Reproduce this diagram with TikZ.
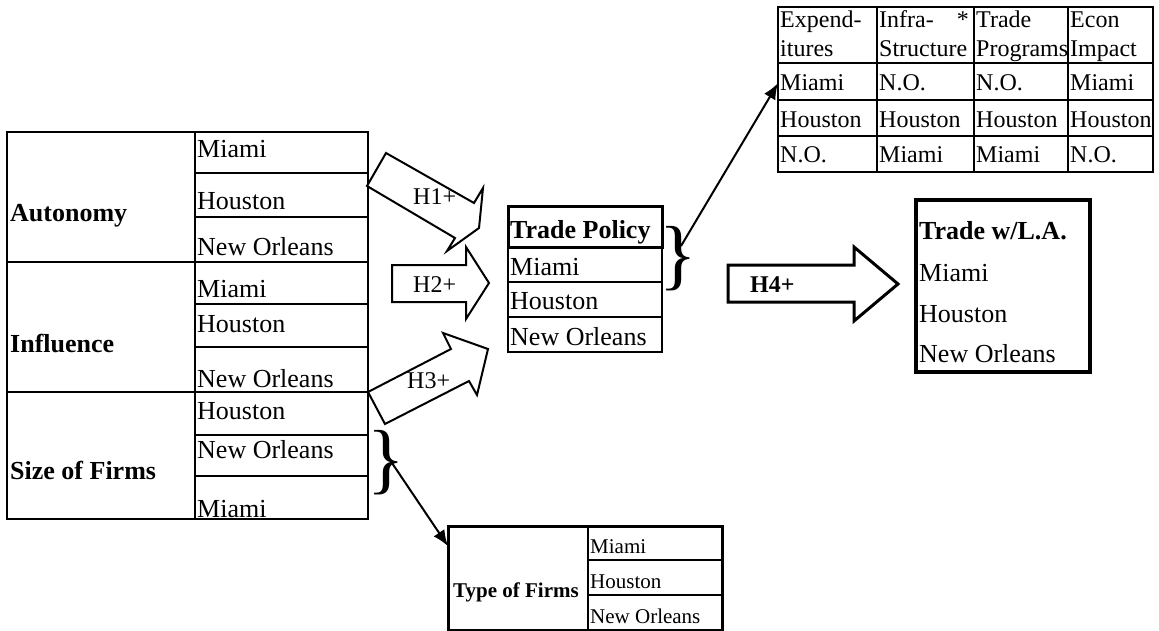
\documentclass[tikz,border=0pt]{standalone}
\usepackage{fontspec}
\setmainfont{Liberation Serif}
\usetikzlibrary{arrows.meta}

\begin{document}
\begin{tikzpicture}[x=1pt, y=-1pt,
		frame/.style={draw, anchor=north west, inner sep=0pt, outer sep=0pt},
		cell/.style={anchor=base west, inner sep=0pt, font=\fontsize{26}{30}\selectfont},
		head/.style={anchor=base west, inner sep=0pt, font=\fontsize{26}{30}\selectfont\bfseries},
		small/.style={anchor=base west, inner sep=0pt, font=\fontsize{24}{28}\selectfont},
		tiny/.style={anchor=base west, inner sep=0pt, font=\fontsize{21}{25}\selectfont},
		rule/.style={line width=2pt},
		block/.style={draw, line width=2pt, fill=white, line join=miter},
		conn/.style={line width=2pt, -{Latex[length=16pt, width=13pt]}},
		brace/.style={anchor=west, inner sep=0pt, font=\fontsize{78}{78}\selectfont}]
		\useasboundingbox (0,0) rectangle (1159,631);

		% determinants
		\node[frame, line width=2.5pt, minimum width=361, minimum height=387] (det) at (7,132) {};
		\draw[rule] (195,132) -- (195,519) (7,262) -- (368,262) (7,392) -- (368,392);
		\draw[rule] (195,173) -- (368,173) (195,217) -- (368,217)
			(195,304) -- (368,304) (195,347) -- (368,347)
			(195,435) -- (368,435) (195,476) -- (368,476);
		\node[head] (auton) at (10,222) {Autonomy};
		\node[cell] (a1) at (197,158) {Miami};
		\node[cell] (a2) at (197,210) {Houston};
		\node[cell] (a3) at (197,255) {New Orleans};
		\node[head] (infl) at (10,352) {Influence};
		\node[cell] (i1) at (197,297) {Miami};
		\node[cell] (i2) at (197,332) {Houston};
		\node[cell] (i3) at (197,387) {New Orleans};
		\node[head] (size) at (10,479) {Size of Firms};
		\node[cell] (s1) at (197,419) {Houston};
		\node[cell] (s2) at (197,458) {New Orleans};
		\node[cell] (s3) at (197,517) {Miami};

		% hypotheses
		\draw[block] (386,153) -- (474,203) -- (483,188) -- (479,228) -- (447,251) -- (455,238) -- (367,186) -- cycle;
		\draw[block] (392,265) -- (466,265) -- (466,247) -- (489,283) -- (466,319) -- (466,302) -- (392,302) -- cycle;
		\draw[block] (368,392) -- (451,349) -- (443,333) -- (488,349) -- (477,395) -- (469,381) -- (385,424) -- cycle;
		\draw[block, line width=3pt] (728,265) -- (854,265) -- (854,247) -- (898,284) -- (854,321) -- (854,302) -- (728,302) -- cycle;
		\node[small] (h1) at (413,205) {H1+};
		\node[small] (h2) at (413,292) {H2+};
		\node[small] (h3) at (407,388) {H3+};
		\node[small, font=\fontsize{24}{28}\selectfont\bfseries] (h4) at (750,292) {H4+};

		% trade policy
		\node[frame, line width=2pt, minimum width=154, minimum height=145] (policy) at (508,207) {};
		\draw[line width=3pt] (508,207) rectangle (662,247);
		\draw[rule] (508,282) -- (662,282) (508,317) -- (662,317);
		\node[head] (tp) at (510,238) {Trade Policy};
		\node[cell] (tp1) at (510,275) {Miami};
		\node[cell] (tp2) at (510,309) {Houston};
		\node[cell] (tp3) at (510,345) {New Orleans};
		\node[brace] (tpbrace) at (659,259) {\}};

		% policy measures
		\node[frame, line width=2pt, minimum width=375, minimum height=165] (effects) at (778,7) {};
		\draw[rule] (877,7) -- (877,172) (974,7) -- (974,172) (1068,7) -- (1068,172)
			(778,63) -- (1153,63) (778,100) -- (1153,100) (778,136) -- (1153,136);
		\node[small] (exp) at (780,28) {Expend-};
		\node[small] (exp2) at (780,57) {itures};
		\node[small] (inf) at (879,28) {Infra-};
		\node[small, anchor=base east] (star) at (969,28) {*};
		\node[small] (inf2) at (879,57) {Structure};
		\node[small] (prg) at (976,28) {Trade};
		\node[small] (prg2) at (976,57) {Programs};
		\node[small] (eco) at (1070,28) {Econ};
		\node[small] (eco2) at (1070,57) {Impact};
		\node[small] (ex1) at (780,91) {Miami};
		\node[small] (ex2) at (780,128) {Houston};
		\node[small] (ex3) at (780,163) {N.O.};
		\node[small] (in1) at (879,91) {N.O.};
		\node[small] (in2) at (879,128) {Houston};
		\node[small] (in3) at (879,163) {Miami};
		\node[small] (pr1) at (976,91) {N.O.};
		\node[small] (pr2) at (976,128) {Houston};
		\node[small] (pr3) at (976,163) {Miami};
		\node[small] (ec1) at (1070,91) {Miami};
		\node[small] (ec2) at (1070,128) {Houston};
		\node[small] (ec3) at (1070,163) {N.O.};

		% outcome
		\node[frame, line width=4pt, minimum width=174, minimum height=172] (latin) at (916,200) {};
		\node[head] (la) at (919,240) {Trade w/L.A.};
		\node[cell] (la1) at (919,281) {Miami};
		\node[cell] (la2) at (919,322) {Houston};
		\node[cell] (la3) at (919,362) {New Orleans};

		% type of firms
		\node[frame, line width=3pt, minimum width=274, minimum height=104] (typetab) at (448,526) {};
		\draw[rule] (588,526) -- (588,630) (588,560) -- (722,560) (588,595) -- (722,595);
		\node[tiny, font=\fontsize{21}{25}\selectfont\bfseries] (type) at (453,597) {Type of Firms};
		\node[tiny] (t1) at (590,553) {Miami};
		\node[tiny] (t2) at (590,588) {Houston};
		\node[tiny] (t3) at (590,623) {New Orleans};
		\node[brace] (sbrace) at (367,463) {\}};

		\coordinate (tpout) at (681,246);
		\coordinate (sout) at (392,463);
		\draw[conn] (tpout) -- (effects.west |- ex1);
		\draw[conn] (sout) -- (typetab.west |- t1);
	\end{tikzpicture}
\end{document}
